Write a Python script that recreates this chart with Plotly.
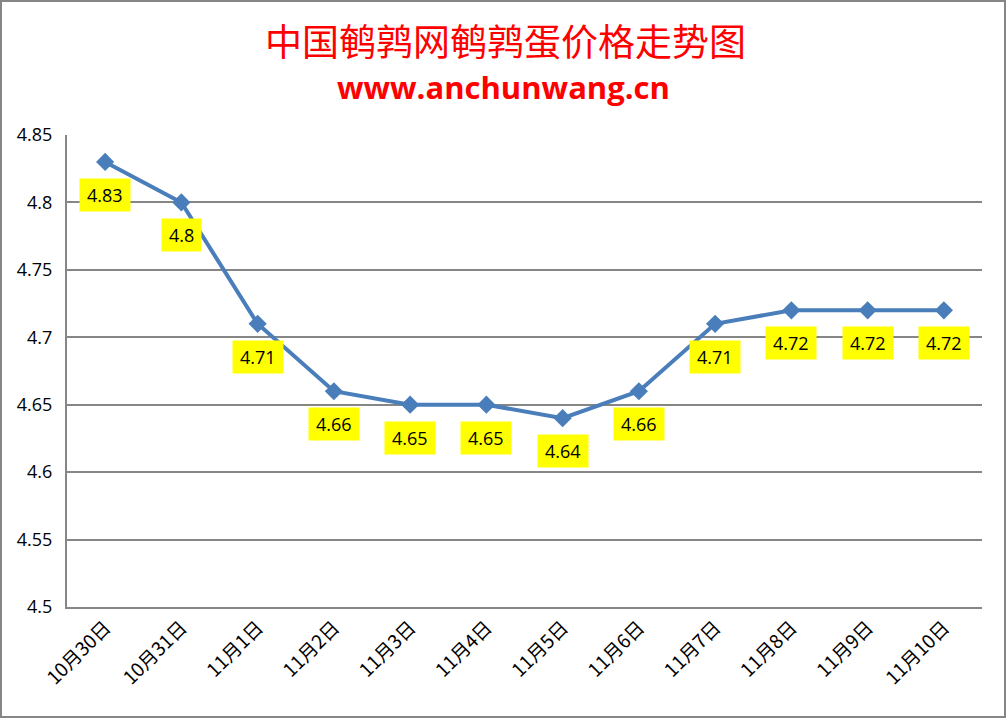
import plotly.graph_objects as go

categories = ["10月30日", "10月31日", "11月1日", "11月2日", "11月3日", "11月4日",
              "11月5日", "11月6日", "11月7日", "11月8日", "11月9日", "11月10日"]
prices = [4.83, 4.80, 4.71, 4.66, 4.65, 4.65, 4.64, 4.66, 4.71, 4.72, 4.72, 4.72]
label_texts = ["4.83", "4.8", "4.71", "4.66", "4.65", "4.65", "4.64", "4.66", "4.71", "4.72", "4.72", "4.72"]

W, H = 1007, 719
L, R, T, B = 67, 25, 135, 112
pw, ph = W - L - R, H - T - B

fig = go.Figure()
fig.add_trace(go.Scatter(
    x=categories, y=prices, mode="lines+markers",
    line=dict(color="#4A7EBB", width=4),
    marker=dict(symbol="diamond", size=14, color="#4A7EBB"),
    hoverinfo="x+y", showlegend=False,
))

for c, v, t in zip(categories, prices, label_texts):
    fig.add_annotation(x=c, y=v, text="\u2009" + t + "\u2009", showarrow=False, yshift=-33,
                       bgcolor="#FFFF00", borderpad=4,
                       font=dict(family="Open Sans, Liberation Sans, sans-serif", size=18, color="black"))

# title and subtitle
fig.add_annotation(xref="paper", yref="paper", x=(505 - L) / pw, y=1 + (T - 40) / ph,
                   xanchor="center", yanchor="middle",
                   text="中国鹌鹑网鹌鹑蛋价格走势图", showarrow=False,
                   font=dict(family="Noto Sans CJK SC", size=37, color="#FF0000"))
fig.add_annotation(xref="paper", yref="paper", x=(503 - L) / pw, y=1 + (T - 87) / ph,
                   xanchor="center", yanchor="middle",
                   text="<b>www.anchunwang.cn</b>", showarrow=False,
                   font=dict(family="Open Sans, Liberation Sans, sans-serif", size=31, color="#FF0000"))

# outer border
fig.add_shape(type="rect", xref="paper", yref="paper",
              x0=(1 - L) / pw, x1=(W - 2 - L) / pw,
              y0=-(H - 2 - T - ph) / ph, y1=1 + (T - 1) / ph,
              line=dict(color="#868686", width=2), fillcolor="rgba(0,0,0,0)")

fig.update_layout(
    width=W, height=H,
    margin=dict(l=L, r=R, t=T, b=B, autoexpand=False),
    paper_bgcolor="white", plot_bgcolor="white",
    xaxis=dict(type="category", tickangle=-45, showgrid=False,
               showline=True, linecolor="#868686", linewidth=2,
               ticks="", tickfont=dict(family="Noto Sans CJK SC", size=19, color="black"),
               range=[-0.5, len(categories) - 0.5]),
    yaxis=dict(range=[4.5, 4.85], dtick=0.05, tick0=4.5,
               showgrid=True, gridcolor="#868686", gridwidth=1.5,
               showline=True, linecolor="#868686", linewidth=2,
               ticks="", zeroline=False, ticklabelstandoff=9,
               tickfont=dict(family="Open Sans, Liberation Sans, sans-serif", size=18, color="black")),
)

fig.write_html("out.html", config={"displayModeBar": False},
               post_script="document.body.style.margin='0';document.body.style.overflow='hidden';")
